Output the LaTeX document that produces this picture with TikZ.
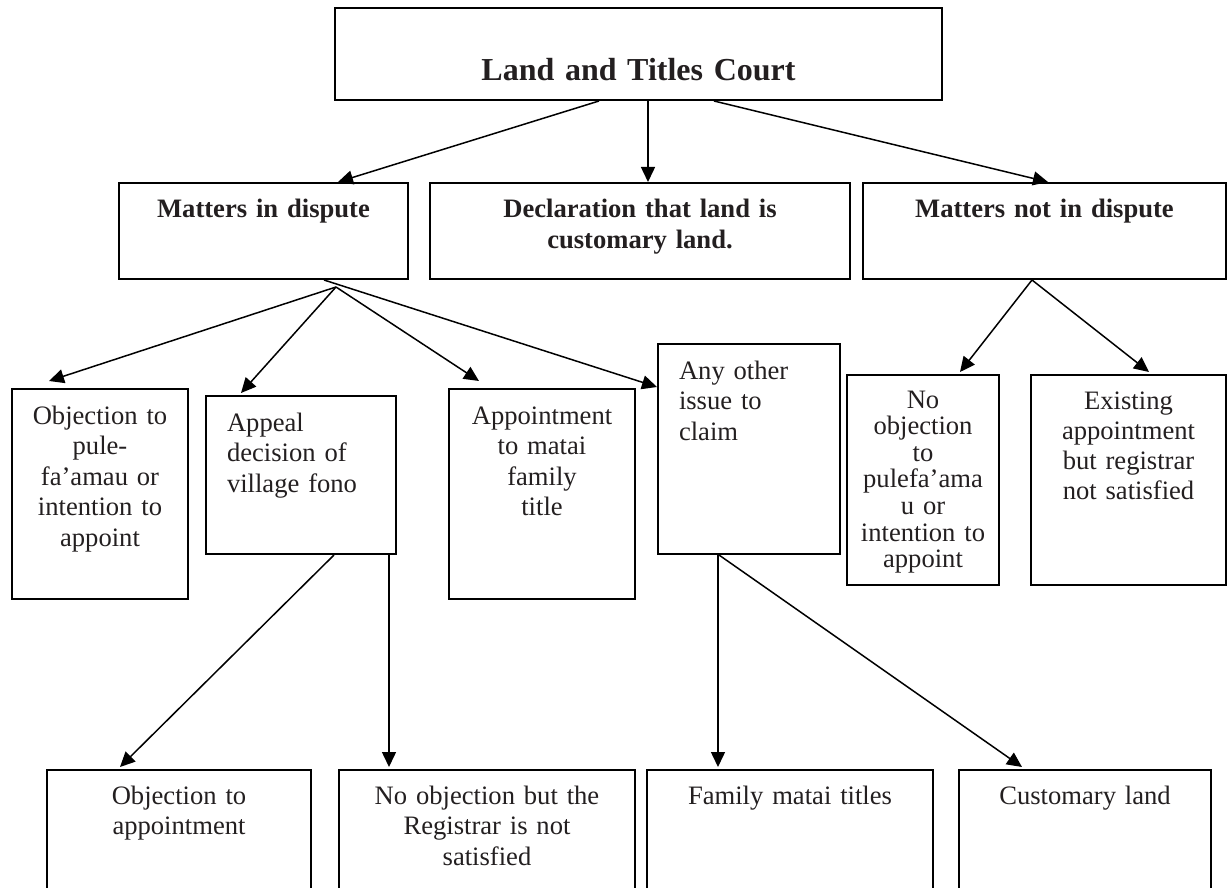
\documentclass[tikz,border=0pt]{standalone}
\usepackage{fontspec}
\setmainfont{Liberation Serif}
\usetikzlibrary{arrows.meta}
\definecolor{ink}{RGB}{35,31,32}
\tikzset{
  box/.style={draw, line width=2pt, inner xsep=4pt, inner ysep=0pt, anchor=north west,
    align=center, text=ink, font=\fontsize{26.6}{30.6}\selectfont},
  head/.style={box, font=\fontsize{26.6}{30.6}\selectfont\bfseries},
  lbox/.style={box, inner xsep=21pt, align=left},
  arr/.style={-{Triangle[length=15pt,width=14pt]}, line width=1.5pt}
}
\begin{document}
\begin{tikzpicture}[x=1pt, y=-1pt]
\clip (0,0) rectangle (1227,888);
% court and the three kinds of matters
\node[head, text width=599pt, text height=73pt, text depth=19pt, font=\fontsize{32}{36}\selectfont\bfseries] (court) at (334,7) {Land and Titles Court};
\node[head, text width=281pt, text height=35pt, text depth=61pt] (disp) at (118,182) {Matters in dispute};
\node[head, text width=412pt, text height=35pt, text depth=61pt] (decl) at (429,182) {Declaration that land is\\customary land.};
\node[head, text width=355pt, text height=35pt, text depth=61pt] (notdisp) at (862,182) {Matters not in dispute};
% matters in dispute
\node[box, text width=168pt, text height=35pt, text depth=175pt] (objpule) at (11,388) {Objection to\\pule-\\fa’amau or\\intention to\\appoint};
\node[lbox, text width=148pt, text height=35pt, text depth=123pt] (appeal) at (205,395) {Appeal\\decision of\\village fono};
\node[box, text width=178pt, text height=35pt, text depth=175pt] (appoint) at (448,388) {Appointment\\to matai\\family\\title};
\node[lbox, text width=140pt, text height=35pt, text depth=175pt] (other) at (657,343) {Any other\\issue to\\claim};
% matters not in dispute
\node[box, text width=144pt, text height=33pt, text depth=177pt, font=\fontsize{26.6}{26.6}\selectfont] (noobj) at (846,374) {No\\objection\\to\\pulefa’ama\\u or\\intention to\\appoint};
\node[box, text width=187pt, text height=34pt, text depth=176pt, font=\fontsize{26.6}{30}\selectfont] (exist) at (1030,374) {Existing\\appointment\\but registrar\\not satisfied};
% bottom row
\node[box, text width=256pt, text height=34pt, text depth=140pt] (objapp) at (46,769) {Objection to\\appointment};
\node[box, text width=288pt, text height=34pt, text depth=140pt] (noreg) at (338,769) {No objection but the\\Registrar is not\\satisfied};
\node[box, text width=278pt, text height=34pt, text depth=140pt] (family) at (646,769) {Family matai titles};
\node[box, text width=244pt, text height=34pt, text depth=140pt] (custland) at (958,769) {Customary land};

\coordinate (fork) at ([xshift=72.5pt,yshift=-7pt]disp.south);
\draw[arr] ([xshift=-39.5pt]court.south) -- ([xshift=74.5pt]disp.north);
\draw[arr] ([xshift=9.5pt]court.south) -- ([xshift=8pt]decl.north);
\draw[arr] ([xshift=75.5pt]court.south) -- ([xshift=3.5pt]notdisp.north);
\draw[arr] (fork) -- ([xshift=-51pt,yshift=7pt]objpule.north);
\draw[arr] (fork) -- ([xshift=-60pt,yshift=2pt]appeal.north);
\draw[arr] (fork) -- ([xshift=-63pt,yshift=7pt]appoint.north);
\draw[arr] ([xshift=60.5pt]disp.south) -- ([yshift=-44pt]other.north west);
\draw[arr] ([xshift=-12.5pt]notdisp.south) -- ([xshift=37pt,yshift=2pt]noobj.north);
\draw[arr] ([xshift=-12.5pt]notdisp.south) -- ([xshift=20.5pt,yshift=2pt]exist.north);
\draw[arr] ([xshift=33pt]appeal.south) -- ([xshift=-59pt,yshift=2pt]objapp.north);
\draw[arr] ([xshift=88pt]appeal.south) -- ([xshift=-98pt,yshift=2pt]noreg.north);
\draw[arr] ([xshift=-31pt]other.south) -- ([xshift=-72pt,yshift=2pt]family.north);
\draw[arr] ([xshift=-30pt]other.south) -- ([xshift=-63pt,yshift=2pt]custland.north);
\end{tikzpicture}
\end{document}
